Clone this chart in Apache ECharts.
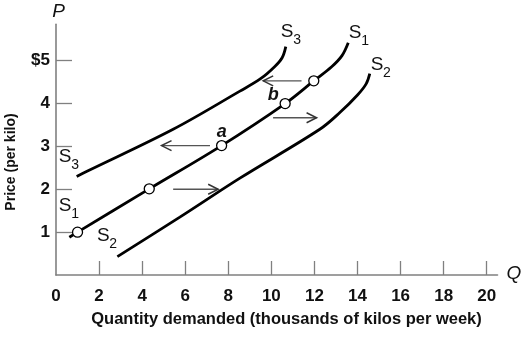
<!DOCTYPE html>
<html>
<head>
<meta charset="utf-8">
<script src="https://cdn.jsdelivr.net/npm/echarts@6/dist/echarts.min.js"></script>
<style>html,body{margin:0;padding:0;background:#fff}#c{width:523px;height:340px}</style>
</head>
<body>
<div id="c"></div>
<script>
// ---- data ----
const xTicks = [0, 2, 4, 6, 8, 10, 12, 14, 16, 18, 20];
const yTicks = [1, 2, 3, 4, 5];
const curveS1 = [[0.62,0.88],[1.0,1.0],[4.33,2.01],[7.69,3.02],[10.64,4.0],[11.97,4.53],[12.8,4.86],[13.28,5.12],[13.57,5.42]];
const curveS2 = [[2.85,0.43],[5.75,1.35],[8.54,2.26],[12.25,3.40],[13.18,3.79],[14.0,4.2],[14.4,4.46],[14.57,4.7]];
const curveS3 = [[0.96,2.30],[1.44,2.42],[5.44,3.40],[8.54,4.29],[9.5,4.58],[10.15,4.86],[10.5,5.07],[10.67,5.33]];
const points = [[1.0,1.0],[4.33,2.01],[7.69,3.02],[10.64,4.0],[11.97,4.53]];
// arrows: [x from, y, x to]
const arrows = [[7.15,3.02,4.9],[5.44,2.0,7.53],[11.4,4.53,9.62],[10.08,3.67,12.1]];
const curveLabels = [
  ['3',10.92,5.58],['1',14.07,5.55],['2',15.09,4.81],
  ['3',0.61,2.66],['1',0.61,1.52],['2',2.38,0.82]
];
const pointLabels = [['a',7.7,3.34],['b',10.09,4.2]];

const FONT = '"Liberation Sans", Arial, sans-serif';
const INK = '#111';
const chart = echarts.init(document.getElementById('c'));
const lineStyle = {color:'#000', width:2.8};
const labelData = curveLabels.map(d => ({value:[d[1], d[2]], name:d[0]}));
const hidden = {color:'transparent', opacity:1};

chart.setOption({
  animation:false,
  backgroundColor:'#fff',
  grid:{left:56, right:25.5, top:24.3, bottom:65},
  xAxis:{
    type:'value', min:0, max:20.5, interval:2,
    axisLine:{show:true, lineStyle:{color:'#808080', width:1.6}},
    axisTick:{show:true, inside:true, length:14, customValues:xTicks.slice(1), lineStyle:{color:'#808080', width:1.3}},
    axisLabel:{customValues:xTicks, margin:13, fontSize:17, fontWeight:'bold', color:INK, fontFamily:FONT},
    splitLine:{show:false}
  },
  yAxis:{
    type:'value', min:0, max:5.85, interval:1,
    axisLine:{show:true, lineStyle:{color:'#808080', width:1.6}},
    axisTick:{show:true, inside:true, length:16, customValues:yTicks, lineStyle:{color:'#808080', width:1.3}},
    axisLabel:{customValues:yTicks, margin:6, fontSize:17, fontWeight:'bold', color:INK, fontFamily:FONT,
      formatter:v => v === 5 ? '$5' : String(v)},
    splitLine:{show:false}
  },
  graphic:[
    {type:'text', x:58.5, y:12, style:{text:'P', font:'italic 19px ' + FONT, fill:INK, textAlign:'center', textVerticalAlign:'middle'}},
    {type:'text', x:514, y:274, style:{text:'Q', font:'italic 19px ' + FONT, fill:INK, textAlign:'center', textVerticalAlign:'middle'}},
    {type:'text', x:286.5, y:319, style:{text:'Quantity demanded (thousands of kilos per week)', font:'bold 16.5px ' + FONT, fill:INK, textAlign:'center', textVerticalAlign:'middle'}},
    {type:'text', x:11.5, y:162, rotation:Math.PI/2, style:{text:'Price (per kilo)', font:'bold 14px ' + FONT, fill:INK, textAlign:'center', textVerticalAlign:'middle'}}
  ],
  series:[
    {type:'line', data:curveS1, smooth:0.35, showSymbol:false, lineStyle, z:3},
    {type:'line', data:curveS2, smooth:0.35, showSymbol:false, lineStyle, z:3},
    {type:'line', data:curveS3, smooth:0.35, showSymbol:false, lineStyle, z:3},
    {type:'custom', z:2,
      data:arrows,
      renderItem:(params, api) => {
        const p1 = api.coord([api.value(0), api.value(1)]);
        const p2 = api.coord([api.value(2), api.value(1)]);
        const dir = p2[0] > p1[0] ? 1 : -1;
        const hl = 10, hw = 5;
        return {type:'group', children:[
          {type:'line', shape:{x1:p1[0], y1:p1[1], x2:p2[0], y2:p2[1]}, style:{stroke:'#555', lineWidth:1.4}},
          {type:'polyline', shape:{points:[[p2[0]-dir*hl, p2[1]-hw],[p2[0], p2[1]],[p2[0]-dir*hl, p2[1]+hw]]}, style:{stroke:'#333', lineWidth:1.5, fill:null}}
        ]};
      }
    },
    {type:'scatter', data:points, symbol:'circle', symbolSize:10, z:5,
      itemStyle:{color:'#fff', borderColor:'#000', borderWidth:1.3, opacity:1}},
    {type:'scatter', z:6, symbolSize:1, silent:true, itemStyle:hidden,
      data:labelData,
      label:{show:true, position:'inside', offset:[-4,-4], formatter:'S', fontSize:19, fontFamily:FONT, color:INK}
    },
    {type:'scatter', z:6, symbolSize:1, silent:true, itemStyle:hidden,
      data:labelData,
      label:{show:true, position:'inside', offset:[6,4], formatter:p => p.name, fontSize:14, fontFamily:FONT, color:INK}
    },
    {type:'scatter', z:6, symbolSize:1, silent:true, itemStyle:hidden,
      data:pointLabels.map(d => ({value:[d[1], d[2]], name:d[0]})),
      label:{show:true, position:'inside', formatter:p => p.name, fontSize:18, fontStyle:'italic', fontWeight:'bold', fontFamily:FONT, color:INK}
    }
  ]
});
</script>
</body>
</html>
